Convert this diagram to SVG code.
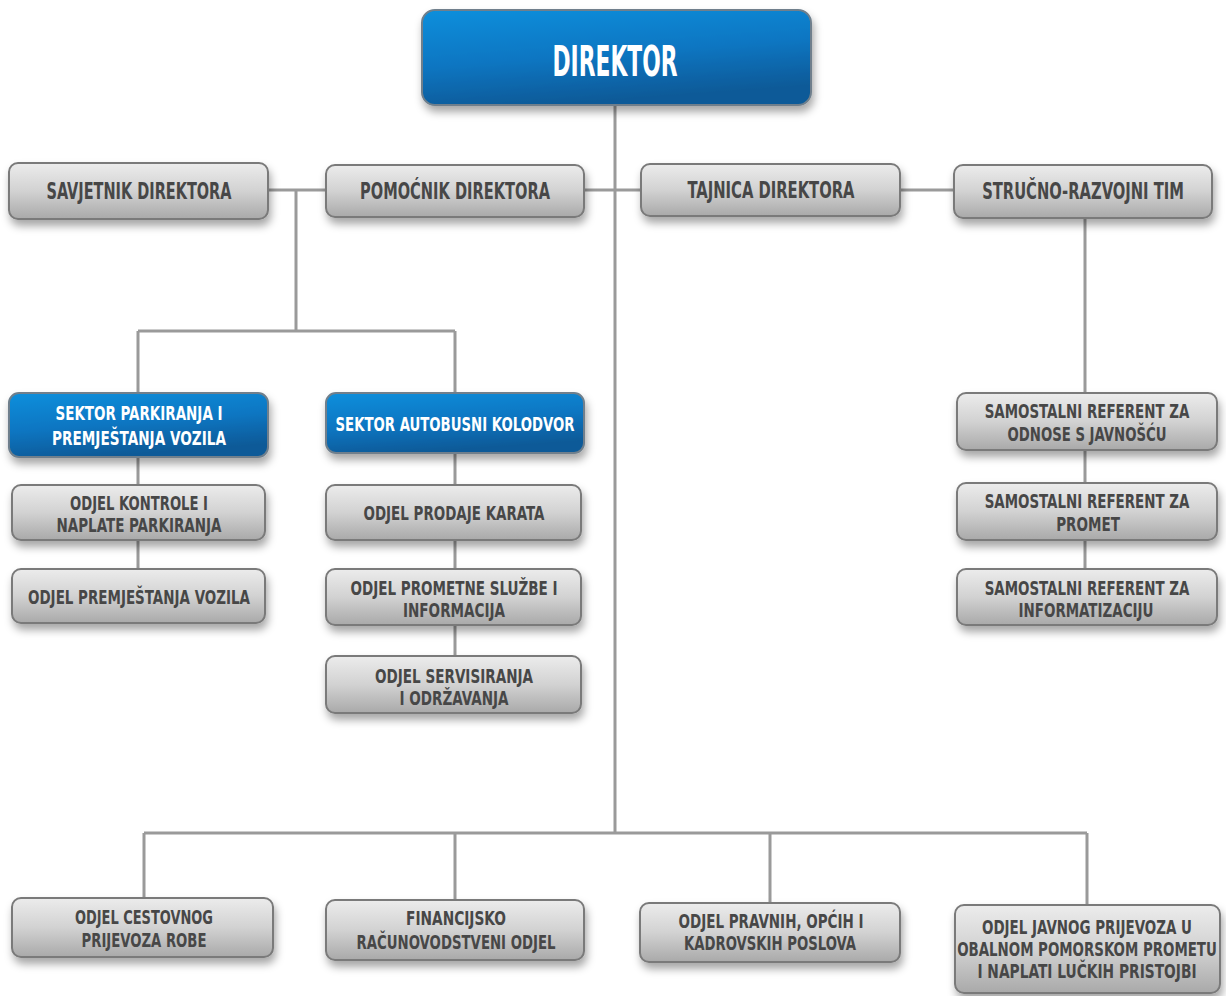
<svg xmlns="http://www.w3.org/2000/svg" width="1226" height="996" viewBox="0 0 1226 996">
<style>
.g{fill:url(#gg);stroke:#7a7a7a;stroke-width:2;filter:url(#sh)}
.b{fill:url(#bg);stroke:#6f7f8c;stroke-width:2;filter:url(#sh)}
.t{font-family:"DejaVu Sans Condensed","DejaVu Sans",sans-serif;font-weight:bold;font-size:20px;fill:#474747;text-anchor:middle}
.tl{font-size:23px}
.w{fill:#ffffff}
.c{stroke:#9a9a9a;stroke-width:3;fill:none}
</style>
<defs>
<linearGradient id="gg" x1="0" y1="0" x2="0" y2="1">
<stop offset="0" stop-color="#ececec"/>
<stop offset="0.5" stop-color="#d2d2d2"/>
<stop offset="1" stop-color="#a9a9a9"/>
</linearGradient>
<linearGradient id="bg" x1="0" y1="0" x2="0.3" y2="1">
<stop offset="0" stop-color="#0a8fdc"/>
<stop offset="0.55" stop-color="#0a76c2"/>
<stop offset="1" stop-color="#0b5a98"/>
</linearGradient>
<filter id="sh" x="-10%" y="-20%" width="120%" height="160%">
<feDropShadow dx="2" dy="6" stdDeviation="4" flood-color="#000" flood-opacity="0.35"/>
</filter>
</defs>
<rect width="1226" height="996" fill="#ffffff"/>
<g id="connectors">
<path class="c" d="M615 105V833"/>
<path class="c" d="M268 190H954"/>
<path class="c" d="M296 190V331M138 331H455M138 331V393M455 331V393"/>
<path class="c" d="M138 457V569M455 453V656"/>
<path class="c" d="M1085 218V569"/>
<path class="c" d="M144 833H1087M144 833V898M455 833V900M770 833V903M1087 833V905"/>
</g>
<g id="direktor"><rect class="b" x="422" y="10" width="389" height="95" rx="13"/><text class="t w" x="615" y="76" style="font-size:42px" textLength="125" lengthAdjust="spacingAndGlyphs">DIREKTOR</text></g>
<g id="savjetnik"><rect class="g" x="9" y="163" width="259" height="56" rx="9"/><text class="t tl" x="139" y="199" textLength="185" lengthAdjust="spacingAndGlyphs">SAVJETNIK DIREKTORA</text></g>
<g id="pomocnik"><rect class="g" x="326" y="165" width="258" height="52" rx="9"/><text class="t tl" x="455" y="199" textLength="190" lengthAdjust="spacingAndGlyphs">POMOĆNIK DIREKTORA</text></g>
<g id="tajnica"><rect class="g" x="641" y="164" width="259" height="52" rx="9"/><text class="t tl" x="771" y="198" textLength="167" lengthAdjust="spacingAndGlyphs">TAJNICA DIREKTORA</text></g>
<g id="strucno"><rect class="g" x="954" y="165" width="258" height="53" rx="9"/><text class="t tl" transform="translate(1083,199) scale(0.75,1)" textLength="269" lengthAdjust="spacingAndGlyphs">STRUČNO-RAZVOJNI TIM</text></g>
<g id="sektor-parkiranja"><rect class="b" x="9" y="393" width="259" height="64" rx="10"/><text class="t w" x="139" y="420" textLength="167" lengthAdjust="spacingAndGlyphs">SEKTOR PARKIRANJA I</text><text class="t w" x="139" y="445" textLength="174" lengthAdjust="spacingAndGlyphs">PREMJEŠTANJA VOZILA</text></g>
<g id="sektor-autobusni"><rect class="b" x="326" y="393" width="258" height="60" rx="10"/><text class="t w" x="455" y="431" textLength="239" lengthAdjust="spacingAndGlyphs">SEKTOR AUTOBUSNI KOLODVOR</text></g>
<g id="odjel-kontrole"><rect class="g" x="12" y="485" width="253" height="55" rx="9"/><text class="t" x="139" y="510" textLength="138" lengthAdjust="spacingAndGlyphs">ODJEL KONTROLE I</text><text class="t" x="139" y="532" textLength="165" lengthAdjust="spacingAndGlyphs">NAPLATE PARKIRANJA</text></g>
<g id="odjel-premjestanja"><rect class="g" x="12" y="569" width="253" height="54" rx="9"/><text class="t" x="139" y="604" textLength="222" lengthAdjust="spacingAndGlyphs">ODJEL PREMJEŠTANJA VOZILA</text></g>
<g id="odjel-prodaje"><rect class="g" x="326" y="485" width="255" height="55" rx="9"/><text class="t" x="454" y="520" textLength="181" lengthAdjust="spacingAndGlyphs">ODJEL PRODAJE KARATA</text></g>
<g id="odjel-prometne"><rect class="g" x="326" y="569" width="255" height="56" rx="9"/><text class="t" x="454" y="595" textLength="207" lengthAdjust="spacingAndGlyphs">ODJEL PROMETNE SLUŽBE I</text><text class="t" x="454" y="617" textLength="102" lengthAdjust="spacingAndGlyphs">INFORMACIJA</text></g>
<g id="odjel-servisiranja"><rect class="g" x="326" y="656" width="255" height="57" rx="9"/><text class="t" x="454" y="683" textLength="158" lengthAdjust="spacingAndGlyphs">ODJEL SERVISIRANJA</text><text class="t" x="454" y="705" textLength="109" lengthAdjust="spacingAndGlyphs">I ODRŽAVANJA</text></g>
<g id="ref-javnost"><rect class="g" x="957" y="393" width="260" height="57" rx="9"/><text class="t" transform="translate(1087,418) scale(0.75,1)" textLength="273" lengthAdjust="spacingAndGlyphs">SAMOSTALNI REFERENT ZA</text><text class="t" transform="translate(1087,441) scale(0.75,1)" textLength="212" lengthAdjust="spacingAndGlyphs">ODNOSE S JAVNOŠĆU</text></g>
<g id="ref-promet"><rect class="g" x="957" y="483" width="260" height="57" rx="9"/><text class="t" transform="translate(1087,508) scale(0.75,1)" textLength="273" lengthAdjust="spacingAndGlyphs">SAMOSTALNI REFERENT ZA</text><text class="t" transform="translate(1088,531) scale(0.75,1)" textLength="85" lengthAdjust="spacingAndGlyphs">PROMET</text></g>
<g id="ref-informatizacija"><rect class="g" x="957" y="569" width="260" height="56" rx="9"/><text class="t" transform="translate(1087,595) scale(0.75,1)" textLength="273" lengthAdjust="spacingAndGlyphs">SAMOSTALNI REFERENT ZA</text><text class="t" transform="translate(1086,617) scale(0.75,1)" textLength="180" lengthAdjust="spacingAndGlyphs">INFORMATIZACIJU</text></g>
<g id="odjel-cestovnog"><rect class="g" x="12" y="898" width="261" height="59" rx="9"/><text class="t" x="144" y="924" textLength="138" lengthAdjust="spacingAndGlyphs">ODJEL CESTOVNOG</text><text class="t" x="144" y="947" textLength="125" lengthAdjust="spacingAndGlyphs">PRIJEVOZA ROBE</text></g>
<g id="financijsko"><rect class="g" x="326" y="900" width="258" height="60" rx="9"/><text class="t" x="456" y="925" textLength="100" lengthAdjust="spacingAndGlyphs">FINANCIJSKO</text><text class="t" x="456" y="949" textLength="199" lengthAdjust="spacingAndGlyphs">RAČUNOVODSTVENI ODJEL</text></g>
<g id="odjel-pravnih"><rect class="g" x="640" y="903" width="260" height="59" rx="9"/><text class="t" x="771" y="928" textLength="185" lengthAdjust="spacingAndGlyphs">ODJEL PRAVNIH, OPĆIH I</text><text class="t" x="770" y="950" textLength="172" lengthAdjust="spacingAndGlyphs">KADROVSKIH POSLOVA</text></g>
<g id="odjel-javnog"><rect class="g" x="955" y="905" width="265" height="88" rx="9"/><text class="t" transform="translate(1087,934) scale(0.7,1)" textLength="300" lengthAdjust="spacingAndGlyphs">ODJEL JAVNOG PRIJEVOZA U</text><text class="t" transform="translate(1087,956) scale(0.7,1)" textLength="371" lengthAdjust="spacingAndGlyphs">OBALNOM POMORSKOM PROMETU</text><text class="t" transform="translate(1087,978) scale(0.7,1)" textLength="313" lengthAdjust="spacingAndGlyphs">I NAPLATI LUČKIH PRISTOJBI</text></g>
</svg>
